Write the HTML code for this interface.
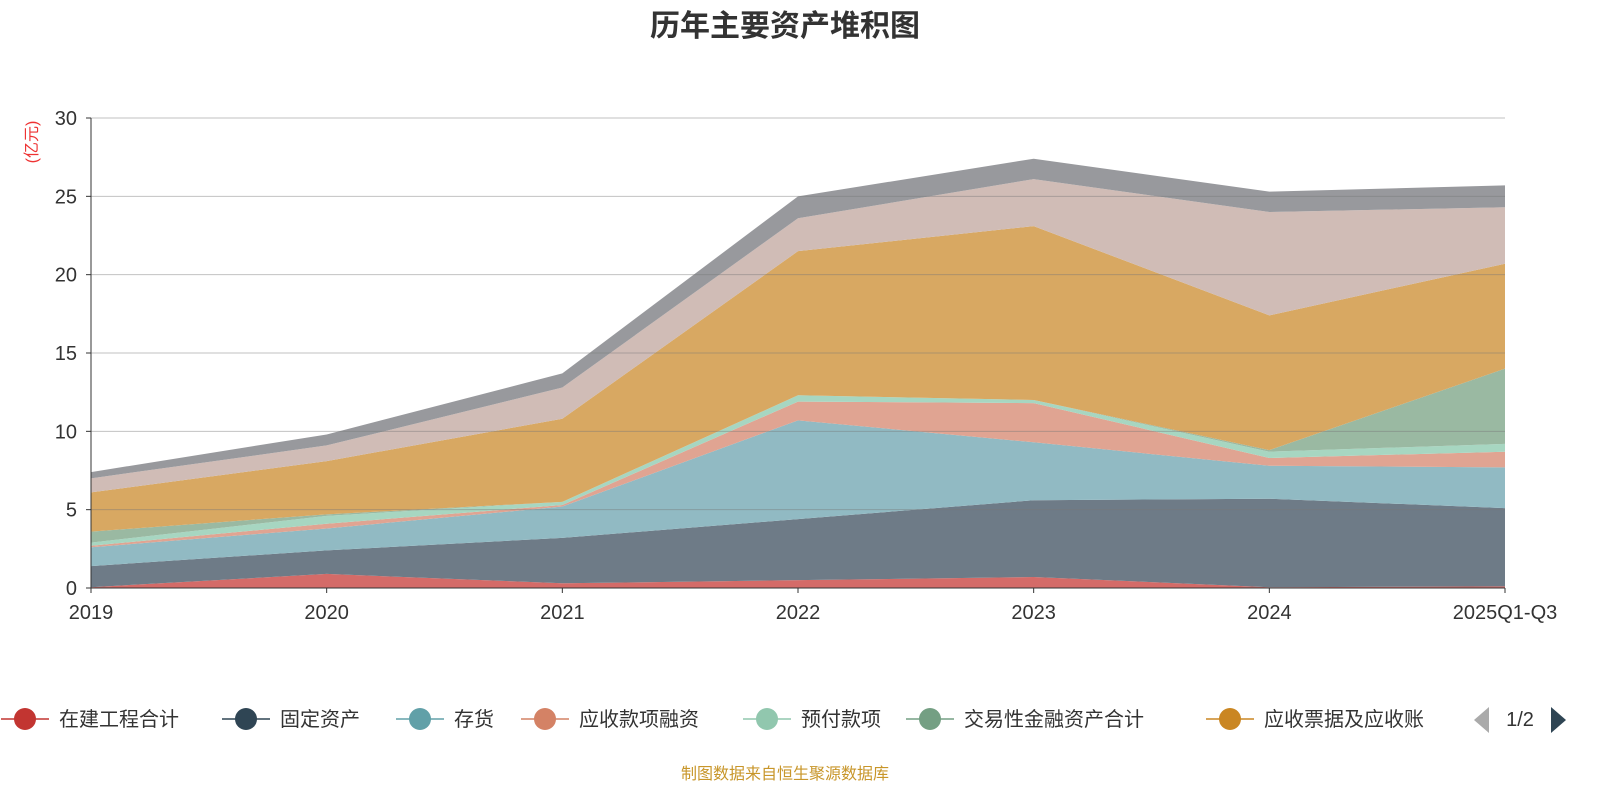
<!DOCTYPE html>
<html><head><meta charset="utf-8"><style>
body{margin:0;background:#fff;width:1600px;height:800px;overflow:hidden;font-family:"Liberation Sans","Noto Sans CJK SC",sans-serif}
</style></head><body>
<svg id="chart" width="1600" height="800">
<text x="785" y="36" text-anchor="middle" font-size="30" font-weight="bold" fill="#333" font-family="Liberation Sans,Noto Sans CJK SC,sans-serif">历年主要资产堆积图</text>
<text transform="translate(37,142) rotate(-90)" text-anchor="middle" font-size="16" fill="#e33" font-family="Liberation Sans,Noto Sans CJK SC,sans-serif">(亿元)</text>
<g id="areas"></g><g id="grid"></g><g id="axes"></g><g id="legend"></g>
<text x="785" y="779" text-anchor="middle" font-size="16" fill="#c8962a" font-family="Liberation Sans,Noto Sans CJK SC,sans-serif">制图数据来自恒生聚源数据库</text>
</svg>
<script>
const categories=["2019","2020","2021","2022","2023","2024","2025Q1-Q3"];
const seriesNames=["在建工程合计","固定资产","存货","应收款项融资","预付款项","交易性金融资产合计","应收票据及应收账","其他资产A","其他资产B"];
const s1=[0.05,0.9,0.3,0.5,0.7,0.05,0.1];
const s2=[1.35,1.5,2.9,3.9,4.9,5.65,5.0];
const s3=[1.2,1.4,2.0,6.3,3.7,2.1,2.6];
const s4=[0.1,0.3,0.1,1.2,2.5,0.5,1.0];
const s5=[0.2,0.5,0.2,0.4,0.2,0.4,0.5];
const s6=[0.7,0.1,0.0,0.0,0.0,0.1,4.8];
const s7=[2.5,3.4,5.3,9.2,11.1,8.6,6.7];
const s8=[0.9,1.0,2.0,2.1,3.0,6.6,3.6];
const s9=[0.4,0.7,0.9,1.4,1.3,1.3,1.4];
const yTicks=[0,5,10,15,20,25,30];
const series=[s1,s2,s3,s4,s5,s6,s7,s8,s9];
const fills=["#d46b68","#6e7b87","#91bac3","#e0a492","#a7d6c1","#9ab9a2","#d8a862","#d0bcb6","#98999d"];
const legendColors=["#c23531","#2f4554","#61a0a8","#d48265","#91c7ae","#749f83","#ca8622"];
const NS="http://www.w3.org/2000/svg";
const x0=91,x1=1505,yb=588,yt=118,ymax=30;
const X=i=>x0+(x1-x0)*i/(categories.length-1);
const Y=v=>yb-(yb-yt)*v/ymax;
function mk(t,a,p){const e=document.createElementNS(NS,t);for(const k in a)e.setAttribute(k,a[k]);p.appendChild(e);return e;}
const areas=document.getElementById('areas');
let base=categories.map(()=>0);
series.forEach((s,si)=>{
  const top=base.map((b,i)=>b+s[i]);
  let d="M"+top.map((v,i)=>X(i)+","+Y(v)).join("L");
  for(let i=categories.length-1;i>=0;i--)d+="L"+X(i)+","+Y(base[i]);
  const p=mk('path',{d:d+"Z",fill:fills[si]},areas);
  
  
  base=top;
});
const grid=document.getElementById('grid'),axes=document.getElementById('axes');
yTicks.forEach(v=>{
  if(v>0){const l=mk('line',{x1:x0,x2:x1,y1:Y(v),y2:Y(v),stroke:"rgba(120,120,120,0.45)","stroke-width":1},grid);
  }
  mk('line',{x1:x0-5,x2:x0,y1:Y(v),y2:Y(v),stroke:"#333"},axes);
  const t=mk('text',{x:x0-14,y:Y(v)+7,"text-anchor":"end","font-size":20,fill:"#333"},axes);t.textContent=v;
  
});
mk('line',{x1:x0,x2:x0,y1:yt,y2:yb,stroke:"#333"},axes);
mk('line',{x1:x0,x2:x1,y1:yb,y2:yb,stroke:"#333"},axes);
categories.forEach((c,i)=>{
  mk('line',{x1:X(i),x2:X(i),y1:yb,y2:yb+5,stroke:"#333"},axes);
  const t=mk('text',{x:X(i),y:yb+31,"text-anchor":"middle","font-size":20,fill:"#333"},axes);t.textContent=c;
  
});
const lg=document.getElementById('legend');
const lx=[25,246,420,545,767,930,1230];
legendColors.forEach((c,i)=>{
  const g=mk('g',{},lg);
  
  
  mk('line',{x1:lx[i]-24,x2:lx[i]+24,y1:719,y2:719,stroke:c,"stroke-width":1.5},g);
  mk('circle',{cx:lx[i],cy:719,r:11,fill:c},g);
  const t=mk('text',{x:lx[i]+34,y:726,"font-size":20,fill:"#333"},g);t.textContent=seriesNames[i];
});
const pl=mk('path',{d:"M1489,707L1489,733L1474,720Z",fill:"#aaa"},lg);

const pt=mk('text',{x:1520,y:726,"text-anchor":"middle","font-size":20,fill:"#333"},lg);pt.textContent="1/2";

const pn=mk('path',{d:"M1551,707L1551,733L1566,720Z",fill:"#2f4554"},lg);

</script>
</body></html>
